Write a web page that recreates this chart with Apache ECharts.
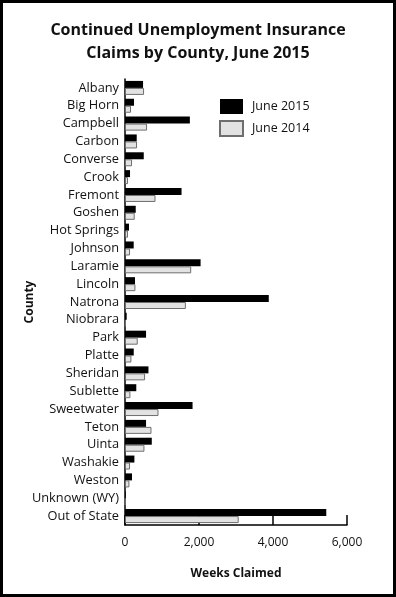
<!DOCTYPE html>
<html><head><meta charset="utf-8">
<script src="https://cdn.jsdelivr.net/npm/echarts@6/dist/echarts.min.js"></script>
<style>html,body{margin:0;padding:0;background:#fff}#c{width:396px;height:597px}</style>
</head><body><div id="c"></div>
<script>
const counties = ["Albany","Big Horn","Campbell","Carbon","Converse","Crook","Fremont","Goshen","Hot Springs","Johnson","Laramie","Lincoln","Natrona","Niobrara","Park","Platte","Sheridan","Sublette","Sweetwater","Teton","Uinta","Washakie","Weston","Unknown (WY)","Out of State"];
const june2015 = [488,244,1753,317,507,136,1528,290,108,235,2043,271,3886,46,569,236,634,305,1826,569,724,254,190,20,5440];
const june2014 = [515,163,596,325,190,81,824,263,81,136,1789,282,1645,20,344,173,542,146,905,715,525,136,119,5,3073];
const xTicks = [0,2000,4000,6000];
const font = '"Open Sans", sans-serif';

const chart = echarts.init(document.getElementById('c'), null, {renderer:'canvas'});
chart.setOption({
  animation:false,
  backgroundColor:'#fff',
  title:{
    text:'Continued Unemployment Insurance\nClaims by County, June 2015',
    left:'center', top:14,
    textStyle:{fontFamily:font, fontWeight:'bold', fontSize:16, lineHeight:23, color:'#111'}
  },
  graphic:[{type:'rect', shape:{x:1.5,y:1.5,width:393,height:594}, style:{fill:null, stroke:'#000', lineWidth:3}, silent:true}],
  legend:{
    orient:'vertical', left:219, top:99, padding:0, itemWidth:23, itemHeight:15, itemGap:6,
    icon:'rect',
    data:['June 2015','June 2014'],
    textStyle:{fontFamily:font, fontSize:12.5, color:'#111', padding:[0,0,0,4]}
  },
  grid:{left:125, right:49, top:79, bottom:72, containLabel:false},
  xAxis:{
    type:'value', min:0, max:6000, interval:2000,
    axisLine:{show:true, lineStyle:{color:'#000', width:1.5}},
    axisTick:{show:true, inside:true, length:10, lineStyle:{color:'#000', width:1.5}},
    splitLine:{show:false},
    axisLabel:{fontFamily:font, fontSize:12, color:'#111', margin:12,
      formatter:v=>v.toLocaleString('en-US')},
    name:'Weeks Claimed', nameLocation:'middle', nameGap:43,
    nameTextStyle:{fontFamily:font, fontWeight:'bold', fontSize:12, color:'#111'}
  },
  yAxis:{
    type:'category', data:counties, inverse:true,
    axisLine:{show:true, lineStyle:{color:'#000', width:1.5}},
    axisTick:{show:false},
    axisLabel:{fontFamily:font, fontSize:12.8, color:'#111', margin:6},
    name:'County', nameLocation:'middle', nameGap:89, nameRotate:90, nameMoveOverlap:false,
    nameTextStyle:{fontFamily:font, fontWeight:'bold', fontSize:12, color:'#111'}
  },
  series:[
    {name:'June 2015', type:'bar', data:june2015, barWidth:7, barGap:'0%',
     itemStyle:{color:'#000'}},
    {name:'June 2014', type:'bar', data:june2014, barWidth:7, barGap:'0%',
     itemStyle:{color:'#e2e2e2', borderColor:'#6e6e6e', borderWidth:1}}
  ]
});
</script></body></html>
